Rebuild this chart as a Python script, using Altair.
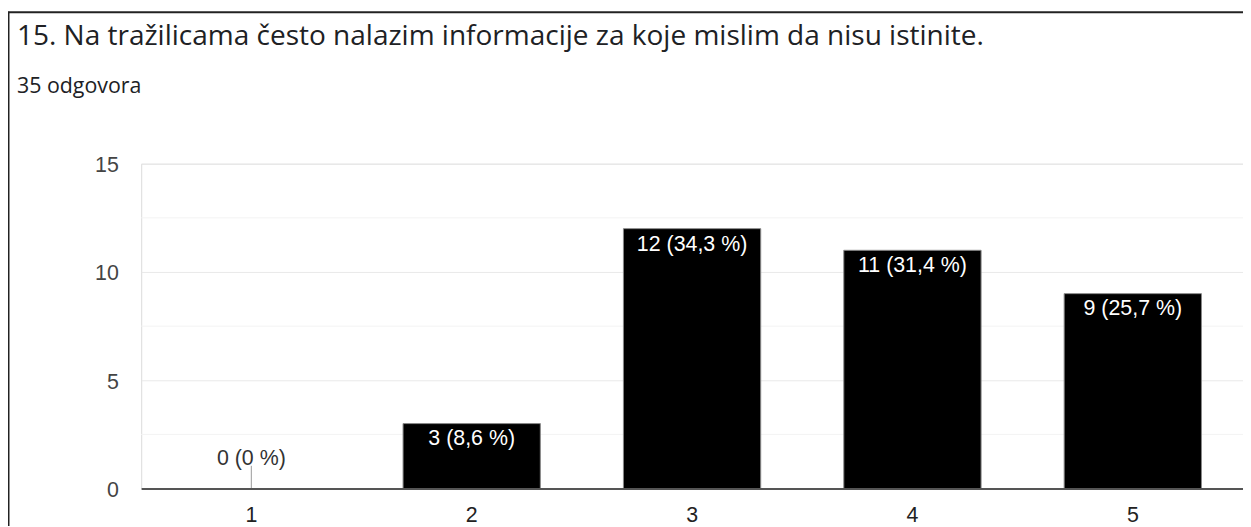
import altair as alt
import pandas as pd

title_text = "15. Na tražilicama često nalazim informacije za koje mislim da nisu istinite."
subtitle_text = "35 odgovora"

categories = ["1", "2", "3", "4", "5"]
counts = [0, 3, 12, 11, 9]
labels = ["0 (0 %)", "3 (8,6 %)", "12 (34,3 %)", "11 (31,4 %)", "9 (25,7 %)"]
major_ticks = [0, 5, 10, 15]
minor_ticks = [2.5, 7.5, 12.5]

df = pd.DataFrame({"cat": categories, "n": counts, "lab": labels})
minor_df = pd.DataFrame({"v": minor_ticks})
title_df = pd.DataFrame({"t": [title_text]})
sub_df = pd.DataFrame({"t": [subtitle_text]})

W, H = 1109, 327
FONT = "Liberation Sans"
FS = 21.5

x_enc = alt.X(
    "cat:N",
    sort=categories,
    scale=alt.Scale(paddingInner=0.377, paddingOuter=0.1885),
    axis=alt.Axis(
        title=None, labelAngle=0, labelFont=FONT, labelFontSize=FS,
        labelColor="#222222", labelPadding=16, ticks=False,
        domainColor="#555555", domainWidth=2, grid=False, zindex=1,
    ),
)
y_scale = alt.Scale(domain=[0, 15], nice=False)

minor = alt.Chart(minor_df).mark_rule(color="#f3f3f3", strokeWidth=1).encode(
    y=alt.Y("v:Q", scale=y_scale)
)

bars = alt.Chart(df).mark_bar(color="#000000", stroke="#888888", strokeWidth=1).encode(
    x=x_enc,
    y=alt.Y(
        "n:Q", scale=y_scale,
        axis=alt.Axis(
            title=None, values=major_ticks, labelFont=FONT, labelFontSize=FS,
            labelColor="#444444", labelPadding=23, labelOffset=2, ticks=False,
            domainColor="#e3e3e3", gridColor="#e9e9e9", grid=True,
        ),
    ),
)

inside = alt.Chart(df).transform_filter("datum.n > 0").mark_text(
    color="white", font=FONT, fontSize=FS, baseline="top", dy=5
).encode(x=alt.X("cat:N", sort=categories), y=alt.Y("n:Q", scale=y_scale), text="lab:N")

stem = alt.Chart(df).transform_filter("datum.n == 0").transform_calculate(
    top="datum.n + 1.05"
).mark_rule(color="#999999", strokeWidth=1).encode(
    x=alt.X("cat:N", sort=categories), y=alt.Y("n:Q", scale=y_scale), y2="top:Q"
)

zero_lab = alt.Chart(df).transform_filter("datum.n == 0").transform_calculate(
    top="datum.n + 1.05"
).mark_text(
    color="#333333", font=FONT, fontSize=FS, baseline="alphabetic", dy=-1
).encode(x=alt.X("cat:N", sort=categories), y=alt.Y("top:Q", scale=y_scale), text="lab:N")

title = alt.Chart(title_df).mark_text(
    align="left", baseline="alphabetic", font="Open Sans", fontSize=28.2, color="#202124"
).encode(x=alt.value(-125), y=alt.value(-119), text="t:N")

subtitle = alt.Chart(sub_df).mark_text(
    align="left", baseline="alphabetic", font="Open Sans", fontSize=21.5, color="#202124"
).encode(x=alt.value(-125), y=alt.value(-71), text="t:N")

frame_left = alt.Chart(title_df).mark_rule(color="#222222", strokeWidth=2).encode(
    x=alt.value(-133.5), y=alt.value(-153), y2=alt.value(H + 60)
)
frame_top = alt.Chart(title_df).mark_rule(color="#222222", strokeWidth=2).encode(
    x=alt.value(-134), x2=alt.value(W), y=alt.value(-152.5)
)

chart = alt.layer(
    minor, bars, stem, inside, zero_lab, title, subtitle, frame_left, frame_top
).properties(
    width=W, height=H,
    autosize=alt.AutoSizeParams(type="none"),
    padding={"left": 134, "top": 155, "right": 0, "bottom": 36},
).configure_view(stroke=None).configure(background="white")

chart.save("out.html", embed_options={"renderer": "svg", "actions": False})
